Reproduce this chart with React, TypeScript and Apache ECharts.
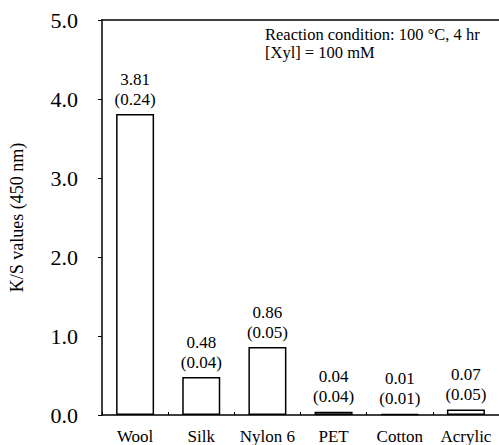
import React, { useEffect, useRef } from "react";
import * as echarts from "echarts";

const categories = ["Wool", "Silk", "Nylon 6", "PET", "Cotton", "Acrylic"];
const values = [3.81, 0.48, 0.86, 0.04, 0.01, 0.07];
const sds = [0.24, 0.04, 0.05, 0.04, 0.01, 0.05];
const yTicks = [0, 1, 2, 3, 4, 5];
const noteLines = ["Reaction condition: 100 °C, 4 hr", "[Xyl] = 100 mM"];

const FONT = "Liberation Serif";

export default function App() {
  const ref = useRef<HTMLDivElement>(null);
  useEffect(() => {
    if (!ref.current) return;
    const chart = echarts.init(ref.current, undefined, { renderer: "svg" });
    chart.setOption({
      animation: false,
      backgroundColor: "#ffffff",
      textStyle: { fontFamily: FONT },
      grid: { left: 101, top: 20, width: 400, height: 396, containLabel: false },
      xAxis: [
        {
          type: "category",
          data: categories,
          boundaryGap: true,
          axisLine: { show: true, lineStyle: { color: "#000", width: 1.5 } },
          axisTick: { show: true, inside: true, length: 3, lineStyle: { color: "#000", width: 1 } },
          axisLabel: { color: "#000", fontFamily: FONT, fontSize: 17, margin: 13, interval: 0 },
          splitLine: { show: false },
        },
        {
          type: "category",
          position: "top",
          data: categories,
          axisLine: { show: true, lineStyle: { color: "#000", width: 1.5 } },
          axisTick: { show: false },
          axisLabel: { show: false },
          splitLine: { show: false },
        },
      ],
      yAxis: {
        type: "value",
        min: 0,
        max: 5,
        interval: 1,
        name: "K/S values (450 nm)",
        nameLocation: "middle",
        nameGap: 76,
        nameTextStyle: { color: "#000", fontFamily: FONT, fontSize: 18 },
        axisLine: { show: true, lineStyle: { color: "#000", width: 1.5 } },
        axisTick: { show: true, inside: false, length: 4, lineStyle: { color: "#000", width: 1 } },
        axisLabel: {
          color: "#000",
          fontFamily: FONT,
          fontSize: 22,
          margin: 24,
          formatter: (v: number) => (yTicks.includes(v) ? v.toFixed(1) : ""),
        },
        splitLine: { show: false },
      },
      series: [
        {
          type: "bar",
          data: values,
          barWidth: 38,
          itemStyle: { color: "#ffffff", borderColor: "#000", borderWidth: 1.5 },
          label: {
            show: true,
            position: "top",
            distance: 5,
            color: "#000",
            fontFamily: FONT,
            fontSize: 17,
            lineHeight: 20,
            align: "center",
            formatter: (p: any) => `${values[p.dataIndex].toFixed(2)}\n(${sds[p.dataIndex].toFixed(2)})`,
          },
        },
      ],
      graphic: noteLines.map((t, i) => ({
        type: "text",
        left: 265,
        top: 26 + i * 18,
        style: {
          text: t,
          fill: "#000",
          fontFamily: FONT,
          fontSize: 16.5,
        },
      })),
    });
    return () => chart.dispose();
  }, []);
  return <div ref={ref} style={{ width: 499, height: 445, position: "absolute", left: 0, top: 0 }} />;
}
